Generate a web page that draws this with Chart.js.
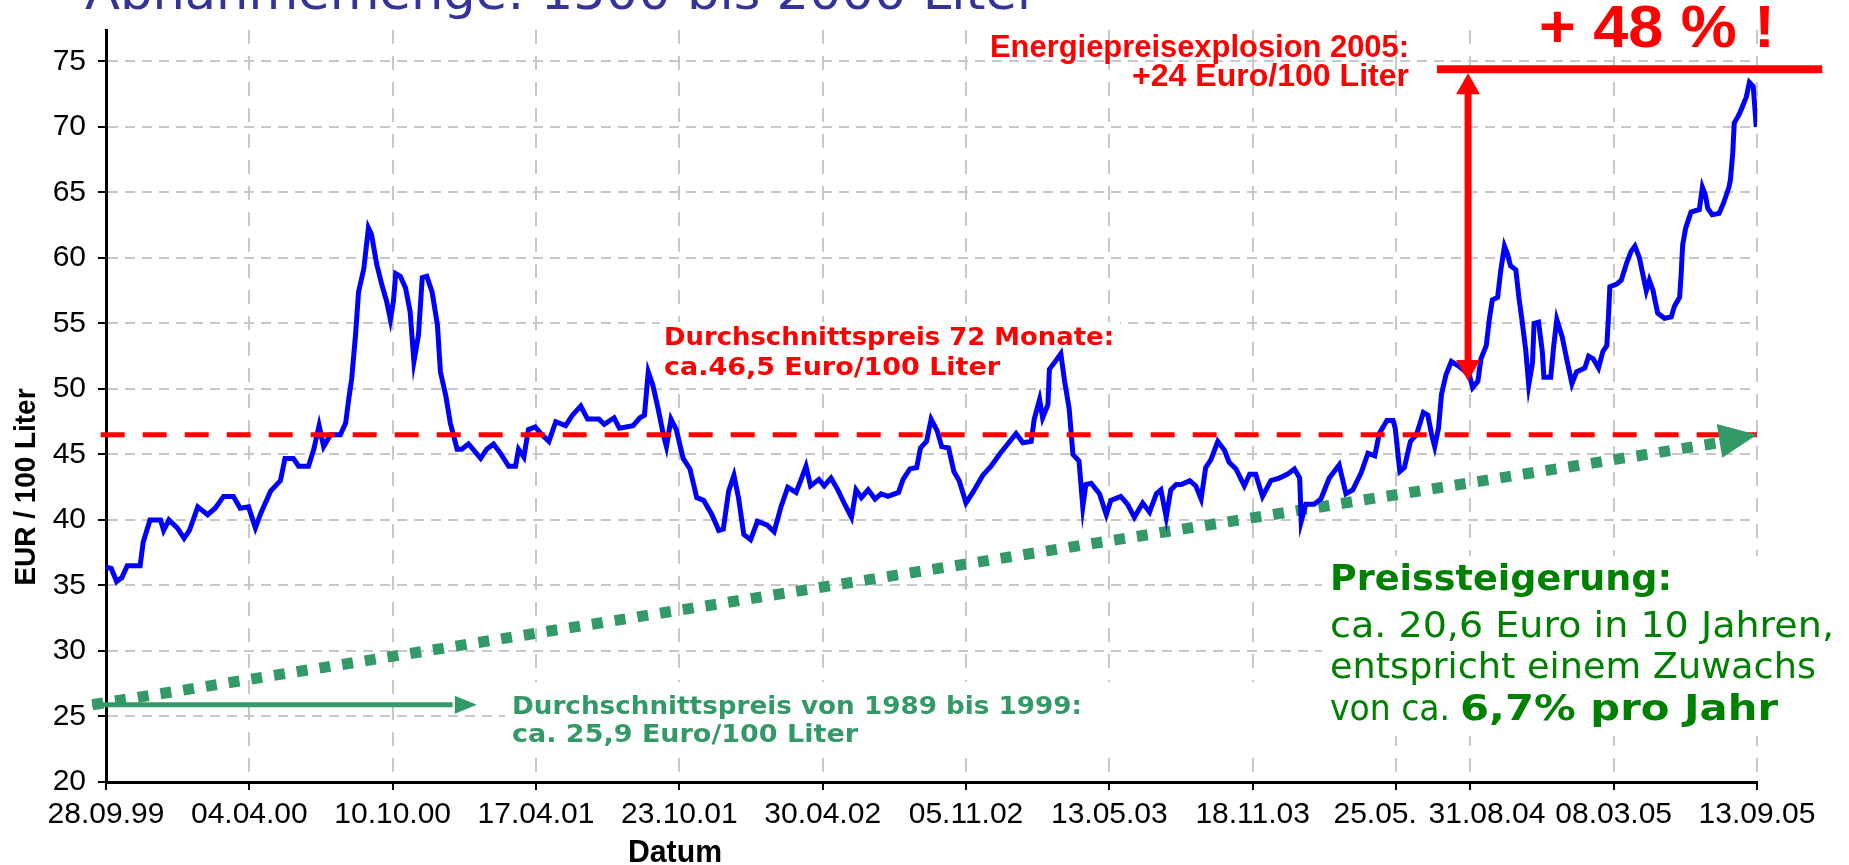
<!DOCTYPE html>
<html lang="de">
<head>
<meta charset="UTF-8">
<title>Heizölpreise 1999 bis 2005</title>
<script src="https://cdn.jsdelivr.net/npm/chart.js"></script>
<style>
  body { margin: 0; background: #fff; }
  #box { width: 1849px; height: 865px; position: relative; }
</style>
</head>
<body>
<div id="box"><canvas id="preise"></canvas></div>
<script>
// Tage seit dem 28.09.99 und Preis in EUR / 100 Liter
var tage = [0, 7, 14, 21, 28, 45, 49, 58, 72, 76, 83, 94, 103, 110, 121, 134, 144, 155, 168, 177,
  188, 197, 204, 217, 230, 236, 247, 254, 267, 274, 281, 287, 296, 309, 316, 320, 324, 329, 333, 340,
  346, 350, 357, 364, 370, 375, 379, 382, 388, 395, 401, 406, 412, 417, 423, 430, 437, 441, 448, 454,
  463, 469, 478, 494, 502, 511, 520, 531, 540, 544, 551, 557, 566, 575, 584, 593, 606, 615, 626, 635,
  650, 657, 670, 677, 695, 704, 710, 715, 721, 728, 735, 739, 745, 752, 761, 770, 779, 788, 799, 808,
  814, 821, 828, 834, 841, 850, 859, 872, 881, 890, 899, 910, 916, 923, 929, 940, 947, 956, 965, 974,
  983, 989, 996, 1005, 1014, 1022, 1031, 1045, 1051, 1060, 1069, 1074, 1082, 1088, 1096, 1102, 1111, 1118, 1125, 1134,
  1143, 1156, 1167, 1178, 1189, 1200, 1209, 1220, 1224, 1231, 1235, 1242, 1244, 1253, 1259, 1264, 1270, 1275, 1283, 1288,
  1292, 1299, 1310, 1319, 1325, 1338, 1347, 1356, 1367, 1376, 1385, 1391, 1398, 1404, 1411, 1418, 1429, 1437, 1444, 1450,
  1457, 1466, 1475, 1481, 1490, 1501, 1508, 1516, 1525, 1536, 1547, 1558, 1567, 1574, 1576, 1582, 1593, 1602, 1613, 1626,
  1635, 1644, 1655, 1664, 1673, 1679, 1683, 1689, 1697, 1700, 1706, 1712, 1720, 1728, 1737, 1743, 1748, 1752, 1757, 1761,
  1767, 1774, 1782, 1791, 1798, 1802, 1809, 1813, 1820, 1824, 1828, 1835, 1839, 1844, 1848, 1852, 1859, 1863, 1867, 1872,
  1876, 1881, 1883, 1889, 1894, 1896, 1905, 1909, 1913, 1920, 1926, 1933, 1939, 1950, 1955, 1961, 1968, 1974, 1979, 1981,
  1983, 1992, 1998, 2005, 2011, 2016, 2022, 2027, 2031, 2035, 2040, 2042, 2046, 2055, 2064, 2068, 2075, 2077, 2079, 2083,
  2090, 2101, 2105, 2109, 2112, 2118, 2127, 2133, 2140, 2142, 2145, 2147, 2152, 2156, 2163, 2167, 2172, 2174, 2176];
var preise = [36.4, 36.3, 35.3, 35.6, 36.5, 36.5, 38.3, 40.0, 40.0, 39.2, 40.0, 39.4, 38.6, 39.2, 41.0, 40.4, 40.9, 41.8, 41.8, 40.9,
  41.0, 39.4, 40.5, 42.2, 43.0, 44.7, 44.7, 44.1, 44.1, 45.4, 47.2, 45.6, 46.5, 46.5, 47.4, 49.2, 50.8, 54.1, 57.4, 59.2,
  62.3, 61.8, 59.5, 57.9, 56.7, 55.3, 56.7, 58.8, 58.6, 57.7, 55.9, 52.1, 54.1, 58.5, 58.6, 57.4, 54.9, 51.3, 49.5, 47.4,
  45.4, 45.4, 45.8, 44.7, 45.4, 45.8, 45.1, 44.1, 44.1, 45.4, 44.8, 46.9, 47.1, 46.5, 46.0, 47.5, 47.2, 48.0, 48.7, 47.7,
  47.7, 47.3, 47.8, 47.0, 47.2, 47.8, 48.0, 51.3, 50.3, 48.5, 46.5, 45.6, 47.7, 46.9, 44.7, 43.9, 41.7, 41.5, 40.4, 39.2,
  39.3, 42.2, 43.4, 41.7, 38.9, 38.5, 39.9, 39.6, 39.1, 41.0, 42.5, 42.1, 43.0, 44.1, 42.6, 43.1, 42.6, 43.2, 42.3, 41.2,
  40.2, 42.3, 41.7, 42.3, 41.6, 42.0, 41.8, 42.1, 43.1, 43.9, 44.0, 45.5, 46.0, 47.7, 46.8, 45.6, 45.5, 43.7, 43.0, 41.3,
  42.1, 43.4, 44.1, 45.0, 45.8, 46.6, 45.9, 46.0, 47.7, 49.2, 47.8, 48.8, 51.5, 52.2, 52.7, 50.6, 48.5, 45.0, 44.5, 41.0,
  42.7, 42.8, 42.0, 40.4, 41.5, 41.8, 41.2, 40.2, 41.3, 40.6, 42.0, 42.3, 40.2, 42.3, 42.7, 42.7, 43.0, 42.6, 41.6, 44.0,
  44.6, 46.0, 45.3, 44.4, 43.9, 42.6, 43.5, 43.5, 41.8, 43.0, 43.2, 43.5, 43.9, 43.2, 39.9, 41.2, 41.2, 41.6, 43.2, 44.2,
  42.0, 42.3, 43.6, 45.1, 44.9, 46.6, 47.0, 47.6, 47.6, 47.0, 43.7, 44.0, 46.0, 46.5, 48.2, 48.0, 46.5, 45.6, 47.0, 49.6,
  51.1, 52.1, 51.8, 51.4, 51.0, 50.1, 50.6, 52.3, 53.3, 55.3, 56.8, 57.0, 59.0, 60.9, 60.3, 59.4, 59.1, 57.0, 55.3, 53.0,
  50.3, 52.0, 55.0, 55.1, 52.8, 50.9, 50.9, 53.3, 55.3, 54.0, 52.3, 50.4, 51.3, 51.6, 52.5, 52.3, 51.6, 52.9, 53.3, 55.4,
  57.8, 58.0, 58.3, 59.6, 60.5, 60.9, 60.0, 58.6, 57.5, 58.3, 57.5, 56.9, 55.8, 55.4, 55.5, 56.3, 57.0, 58.8, 61.0, 62.3,
  63.5, 63.7, 65.4, 64.8, 63.8, 63.3, 63.4, 64.2, 65.4, 66.0, 68.0, 70.3, 70.8, 71.3, 72.3, 73.4, 73.1, 71.6, 70.0];

var tickTage = [0, 189, 378, 567, 756, 945, 1134, 1323, 1512, 1701, 1799, 1988, 2177];
var tickLabels = ['28.09.99', '04.04.00', '10.10.00', '17.04.01', '23.10.01', '30.04.02', '05.11.02',
  '13.05.03', '18.11.03', '25.05.     ', '    31.08.04', '08.03.05', '13.09.05'];
var yTicks = [20, 25, 30, 35, 40, 45, 50, 55, 60, 65, 70, 75];

// Hilfslinien
var schnitt72Tage = [-7, 2177];
var schnitt72Werte = [46.5, 46.5];
var trendTage = [-18, 2127];
var trendWerte = [25.9, 45.9];
var trendSpitze = [2177, 46.5];
var altTage = [-18, 457];
var altWerte = [25.9, 25.9];
var altSpitze = [489, 25.9];
var sprungTage = [1796, 1796];
var sprungWerte = [52.0, 72.7];
var sprungSpitzen = [50.6, 74.1];
var obenTage = [1755, 2263];
var obenWerte = [74.4, 74.4];

function punkte(xs, ys) {
  return xs.map(function (x, i) { return { x: x, y: ys[i] }; });
}

function schreib(ctx, text, x, y, font, farbe, breite, align, drehen) {
  ctx.save();
  ctx.font = font;
  ctx.fillStyle = farbe;
  ctx.textAlign = align || 'left';
  ctx.textBaseline = 'alphabetic';
  var k = breite ? breite / ctx.measureText(text).width : 1;
  ctx.translate(x, y);
  if (drehen) ctx.rotate(-Math.PI / 2);
  ctx.scale(k, 1);
  ctx.fillText(text, 0, 0);
  ctx.restore();
}

function spitze(ctx, x1, y1, x2, y2, len, halb, farbe) {
  var a = Math.atan2(y2 - y1, x2 - x1);
  ctx.save();
  ctx.translate(x2, y2);
  ctx.rotate(a);
  ctx.beginPath();
  ctx.moveTo(0, 0);
  ctx.lineTo(-len, -halb);
  ctx.lineTo(-len, halb);
  ctx.closePath();
  ctx.fillStyle = farbe;
  ctx.fill();
  ctx.restore();
}

var deko = {
  id: 'deko',
  beforeDraw: function (chart) {
    var ctx = chart.ctx;
    ctx.save();
    ctx.fillStyle = '#fff';
    ctx.fillRect(0, 0, chart.width, chart.height);
    ctx.restore();
  },
  beforeDatasetsDraw: function (chart) {
    // weisse Flaechen hinter den Texten
    var ctx = chart.ctx;
    ctx.save();
    ctx.fillStyle = '#fff';
    ctx.fillRect(505, 682, 817, 76);
    ctx.fillRect(1322, 556, 527, 180);
    ctx.fillRect(660, 322, 460, 60);
    ctx.restore();
  },
  afterDatasetsDraw: function (chart) {
    var ctx = chart.ctx, xs = chart.scales.x, ys = chart.scales.y;
    // gruener Trendpfeil
    spitze(ctx, xs.getPixelForValue(trendTage[0]), ys.getPixelForValue(trendWerte[0]),
      xs.getPixelForValue(trendSpitze[0]), ys.getPixelForValue(trendSpitze[1]), 38, 17, '#339966');
    // gruener Pfeil alter Durchschnitt
    spitze(ctx, xs.getPixelForValue(altTage[0]), ys.getPixelForValue(altWerte[0]),
      xs.getPixelForValue(altSpitze[0]), ys.getPixelForValue(altSpitze[1]), 22, 9, '#339966');
    // roter Doppelpfeil
    var sx = xs.getPixelForValue(sprungTage[0]);
    spitze(ctx, sx, ys.getPixelForValue(60), sx, ys.getPixelForValue(sprungSpitzen[0]), 21, 12, '#ff0000');
    spitze(ctx, sx, ys.getPixelForValue(60), sx, ys.getPixelForValue(sprungSpitzen[1]), 21, 12, '#ff0000');
  },
  afterDraw: function (chart) {
    var ctx = chart.ctx;
    schreib(ctx, 'Abnahmemenge: 1500 bis 2000 Liter', 85, 9, '48px "DejaVu Sans"', '#333399', 953);
    schreib(ctx, 'Energiepreisexplosion 2005:', 1409, 57, 'bold 31px "Liberation Sans"', '#ff0000', 419, 'right');
    schreib(ctx, '+24 Euro/100 Liter', 1409, 86, 'bold 31px "Liberation Sans"', '#ff0000', 277, 'right');
    schreib(ctx, '+ 48 % !', 1539, 47, 'bold 60px "Liberation Sans"', '#ff0000', 236);
    schreib(ctx, 'Durchschnittspreis 72 Monate:', 664, 345, 'bold 24px "DejaVu Sans"', '#ff0000', 450);
    schreib(ctx, 'ca.46,5 Euro/100 Liter', 664, 375, 'bold 24px "DejaVu Sans"', '#ff0000', 336);
    schreib(ctx, 'Durchschnittspreis von 1989 bis 1999:', 512, 714, 'bold 24px "DejaVu Sans"', '#339966', 570);
    schreib(ctx, 'ca. 25,9 Euro/100 Liter', 512, 742, 'bold 24px "DejaVu Sans"', '#339966', 346);
    schreib(ctx, 'Preissteigerung:', 1330, 590, 'bold 36px "DejaVu Sans"', '#008000', 342);
    schreib(ctx, 'ca. 20,6 Euro in 10 Jahren,', 1330, 637, '35px "DejaVu Sans"', '#008000', 504);
    schreib(ctx, 'entspricht einem Zuwachs', 1330, 678, '35px "DejaVu Sans"', '#008000', 486);
    schreib(ctx, 'von ca.', 1330, 720, '35px "DejaVu Sans"', '#008000', 120);
    schreib(ctx, '6,7% pro Jahr', 1460, 720, 'bold 35px "DejaVu Sans"', '#008000', 318);
    schreib(ctx, 'Datum', 675, 862, 'bold 32px "Liberation Sans"', '#000', 94, 'center');
    schreib(ctx, 'EUR / 100 Liter', 35, 487, 'bold 30px "Liberation Sans"', '#000', 197, 'center', true);
  }
};

var rasterX = {
  color: '#c8c8c8', lineWidth: 2, drawTicks: true,
  tickColor: '#000', tickLength: 8, tickWidth: 2, tickBorderDash: []
};
var rasterY = {
  color: '#c8c8c8', lineWidth: 2, drawTicks: true,
  tickColor: '#000', tickLength: 8, tickWidth: 2, tickBorderDash: []
};

var ctx = document.getElementById('preise').getContext('2d');
var grafik = new Chart(ctx, {
  type: 'line',
  data: {
    datasets: [{
      label: 'Heizölpreis',
      data: punkte(tage, preise),
      borderColor: '#0000ff',
      borderWidth: 5,
      pointRadius: 0,
      tension: 0,
      order: 3
    }, {
      label: 'Durchschnitt 72 Monate',
      data: punkte(schnitt72Tage, schnitt72Werte),
      borderColor: '#ff0000',
      borderWidth: 5,
      borderDash: [24, 18],
      pointRadius: 0,
      clip: false,
      order: 2
    }, {
      label: 'Trend',
      data: punkte(trendTage, trendWerte),
      borderColor: '#339966',
      borderWidth: 11,
      borderDash: [11, 12],
      pointRadius: 0,
      clip: false,
      order: 5
    }, {
      label: 'Durchschnitt 1989-1999',
      data: punkte(altTage, altWerte),
      borderColor: '#339966',
      borderWidth: 5,
      pointRadius: 0,
      clip: false,
      order: 4
    }, {
      label: 'Anstieg',
      data: punkte(sprungTage, sprungWerte),
      borderColor: '#ff0000',
      borderWidth: 7,
      pointRadius: 0,
      clip: false,
      order: 1
    }, {
      label: 'Hoechststand',
      data: punkte(obenTage, obenWerte),
      borderColor: '#ff0000',
      borderWidth: 8,
      pointRadius: 0,
      clip: false,
      order: 1
    }]
  },
  options: {
    responsive: true,
    maintainAspectRatio: false,
    animation: false,
    events: [],
    layout: { padding: { top: 26, right: 92, left: 0, bottom: 0 } },
    plugins: {
      legend: { display: false },
      tooltip: { enabled: false }
    },
    scales: {
      x: {
        type: 'linear',
        min: 0,
        max: 2177,
        afterBuildTicks: function (s) { s.ticks = tickTage.map(function (v) { return { value: v }; }); },
        afterFit: function (s) { s.height = 83; },
        ticks: {
          autoSkip: false, maxRotation: 0, minRotation: 0, padding: 7,
          color: '#000', font: { family: 'Liberation Sans', size: 30 },
          callback: function (v, i) { return tickLabels[i]; }
        },
        grid: rasterX,
        border: { color: '#000', width: 3, dash: [14, 12] }
      },
      y: {
        type: 'linear',
        min: 20,
        max: 77.4,
        afterBuildTicks: function (s) { s.ticks = yTicks.map(function (v) { return { value: v }; }); },
        afterFit: function (s) { s.width = 106; },
        ticks: {
          padding: 12, color: '#000', font: { family: 'Liberation Sans', size: 30 }
        },
        grid: rasterY,
        border: { color: '#000', width: 3, dash: [10, 7] }
      }
    }
  },
  plugins: [deko]
});
</script>
</body>
</html>
